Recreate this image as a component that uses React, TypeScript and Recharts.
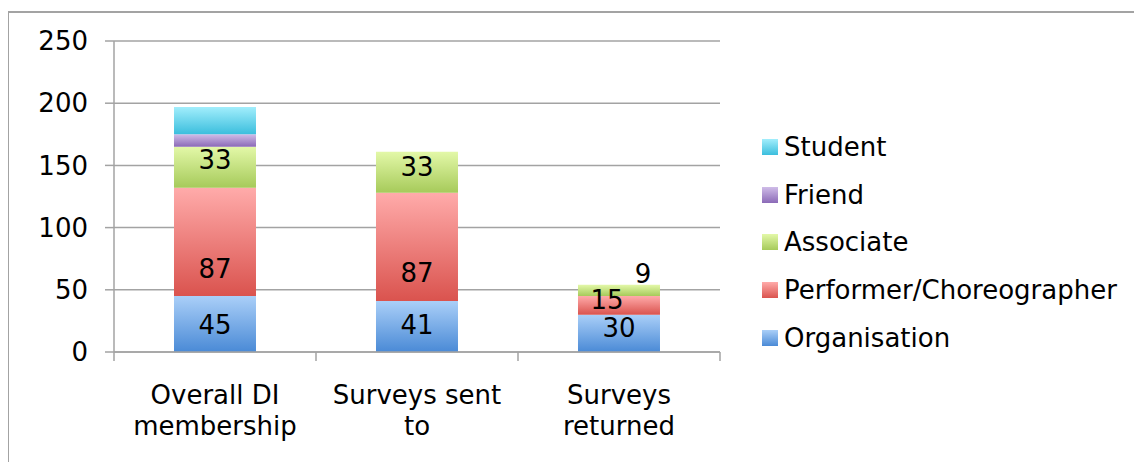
import React from 'react';
import { BarChart, Bar, XAxis, YAxis, CartesianGrid, LabelList } from 'recharts';

const categories = ['Overall DI membership', 'Surveys sent to', 'Surveys returned'];
const categoryLines = [
  ['Overall DI', 'membership'],
  ['Surveys sent', 'to'],
  ['Surveys', 'returned'],
];
const organisation = [45, 41, 30];
const performer = [87, 87, 15];
const associate = [33, 33, 9];
const friend = [10, 0, 0];
const student = [22, 0, 0];
const yTicks = [0, 50, 100, 150, 200, 250];

const data = categories.map((c, i) => ({
  name: c,
  organisation: organisation[i],
  performer: performer[i],
  associate: associate[i],
  friend: friend[i],
  student: student[i],
}));

const FONT = '"DejaVu Sans", Verdana, sans-serif';
const GRID = '#a3a3a3';

const series = [
  { key: 'organisation', name: 'Organisation', top: '#aacff8', bottom: '#4a8ad6', label: true },
  { key: 'performer', name: 'Performer/Choreographer', top: '#ffabaa', bottom: '#da534e', label: true },
  { key: 'associate', name: 'Associate', top: '#e3f8a8', bottom: '#a6ca5a', label: true },
  { key: 'friend', name: 'Friend', top: '#cfbce8', bottom: '#8b6ab7', label: false },
  { key: 'student', name: 'Student', top: '#a2eefc', bottom: '#3bbedd', label: false },
];

// label nudges (dx, dy) relative to segment centre, per category
const labelNudge: Record<string, number[][]> = {
  organisation: [[0, 1], [0, -1], [0, -5]],
  performer: [[0, 27], [0, 26], [-12, -5]],
  associate: [[0, -7], [0, -5], [24, -16]],
};

const makeLabel = (key: string) => (props: any) => {
  const { x, y, width, height, value, index } = props;
  if (!value) return null;
  const n = (labelNudge[key] && labelNudge[key][index]) || [0, 0];
  return (
    <text
      x={Number(x) + Number(width) / 2 + n[0]}
      y={Number(y) + Number(height) / 2 + n[1]}
      textAnchor="middle"
      dominantBaseline="central"
      fontSize={26}
      fontFamily={FONT}
      fill="#000"
    >
      {value}
    </text>
  );
};

const CategoryTick = (props: any) => {
  const { x, y, payload, index, visibleTicksCount } = props;
  const idx = payload && typeof payload.index === 'number' ? payload.index : index;
  const lines = categoryLines[idx] || [String(payload.value)];
  const off = payload && typeof payload.offset === 'number' ? payload.offset : 0;
  const isLast = idx === (visibleTicksCount ? visibleTicksCount - 1 : categories.length - 1);
  return (
    <g>
      {off > 0 && <line x1={x - off} x2={x - off} y1={y} y2={y + 9} stroke={GRID} strokeWidth={1.5} />}
      {off > 0 && isLast && <line x1={x + off} x2={x + off} y1={y} y2={y + 9} stroke={GRID} strokeWidth={1.5} />}
      <text textAnchor="middle" fontSize={26} fontFamily={FONT} fill="#000">
        {lines.map((l: string, i: number) => (
          <tspan key={i} x={x} y={y + 52 + i * 31}>
            {l}
          </tspan>
        ))}
      </text>
    </g>
  );
};

const legendOrder = [...series].reverse();

export default function App() {
  return (
    <div
      style={{
        position: 'relative',
        marginTop: 3,
        marginLeft: -1,
        width: 1140,
        height: 460,
        borderTop: `2px solid ${GRID}`,
        borderLeft: `2px solid ${GRID}`,
        boxSizing: 'border-box',
        fontFamily: FONT,
      }}
    >
      <BarChart
        width={1133}
        height={449}
        data={data}
        margin={{ top: 28, right: 422, bottom: 0, left: 0 }}
        barCategoryGap="29.7%"
      >
        <defs>
          {series.map((s) => (
            <linearGradient key={s.key} id={`grad-${s.key}`} x1="0" y1="0" x2="0" y2="1">
              <stop offset="0%" stopColor={s.top} />
              <stop offset="100%" stopColor={s.bottom} />
            </linearGradient>
          ))}
        </defs>
        <CartesianGrid vertical={false} stroke={GRID} strokeWidth={1.5} />
        <XAxis
          dataKey="name"
          height={110}
          tickSize={0}
          tickMargin={0}
          tickLine={false}
          axisLine={{ stroke: GRID, strokeWidth: 1.5 }}
          tick={<CategoryTick />}
          interval={0}
        />
        <YAxis
          width={105}
          domain={[0, 250]}
          ticks={yTicks}
          tickSize={9}
          tickMargin={17}
          axisLine={{ stroke: GRID, strokeWidth: 1.5 }}
          tickLine={{ stroke: GRID, strokeWidth: 1.5 }}
          tick={{ fontSize: 26, fill: '#000', fontFamily: FONT }}
          allowDataOverflow
        />
        {series.map((s) => (
          <Bar
            key={s.key}
            dataKey={s.key}
            name={s.name}
            stackId="a"
            fill={`url(#grad-${s.key})`}
            isAnimationActive={false}
          >
            {s.label && <LabelList dataKey={s.key} content={makeLabel(s.key)} />}
          </Bar>
        ))}
      </BarChart>
      <div style={{ position: 'absolute', left: 753, top: 110 }}>
        {legendOrder.map((s) => (
          <div key={s.key} style={{ display: 'flex', alignItems: 'center', height: 47.75 }}>
            <div
              style={{
                width: 16,
                height: 16,
                marginRight: 6,
                background: `linear-gradient(to bottom, ${s.top}, ${s.bottom})`,
              }}
            />
            <span style={{ fontSize: 26, color: '#000', whiteSpace: 'nowrap' }}>{s.name}</span>
          </div>
        ))}
      </div>
    </div>
  );
}
